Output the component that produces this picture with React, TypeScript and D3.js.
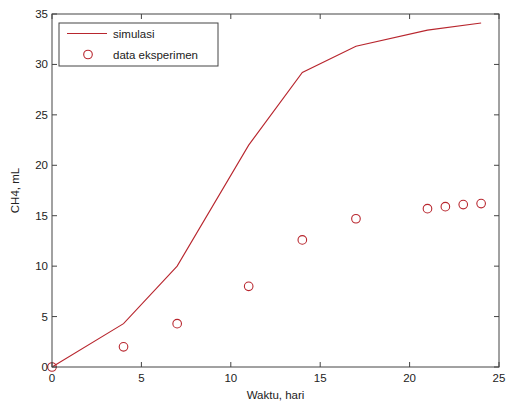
import React from "react";
import * as d3 from "d3";

const simDays = [0, 4, 7, 11, 14, 17, 21, 24];
const simCH4 = [0, 4.3, 10, 22, 29.2, 31.8, 33.4, 34.1];
const expDays = [0, 4, 7, 11, 14, 17, 21, 22, 23, 24];
const expCH4 = [0, 2.0, 4.3, 8.0, 12.6, 14.7, 15.7, 15.9, 16.1, 16.2];
const xTicks = [0, 5, 10, 15, 20, 25];
const yTicks = [0, 5, 10, 15, 20, 25, 30, 35];

const W = 506, H = 403;
const L = 52, R = 499, T = 14, B = 367;
const RED = "#b8262e";
const AX = "#444";
const FONT = "Liberation Sans, Arial, sans-serif";

export default function App() {
  const x = d3.scaleLinear().domain([0, 25]).range([L, R]);
  const y = d3.scaleLinear().domain([0, 35]).range([B, T]);
  const line = d3.line<number>().x((_, i) => x(simDays[i])).y((d) => y(d));
  const tl = 5;
  return (
    <svg width={W} height={H} style={{ position: "absolute", left: 0, top: 0, background: "#fff" }} fontFamily={FONT}>
      <rect x={0} y={0} width={W} height={H} fill="#fff" />
      <path d={line(simCH4) || ""} fill="none" stroke={RED} strokeWidth={1.1} />
      {expCH4.map((v, i) => (
        <circle key={i} cx={x(expDays[i])} cy={y(v)} r={4.3} fill="none" stroke={RED} strokeWidth={1.1} />
      ))}
      <rect x={L} y={T} width={R - L} height={B - T} fill="none" stroke={AX} strokeWidth={1} />
      {xTicks.map((t) => (
        <g key={"x" + t}>
          <line x1={x(t)} x2={x(t)} y1={B} y2={B - tl} stroke={AX} />
          <line x1={x(t)} x2={x(t)} y1={T} y2={T + tl} stroke={AX} />
          <text x={x(t)} y={B + 15} fontSize={11.5} textAnchor="middle" fill="#222">{t}</text>
        </g>
      ))}
      {yTicks.map((t) => (
        <g key={"y" + t}>
          <line x1={L} x2={L + tl} y1={y(t)} y2={y(t)} stroke={AX} />
          <line x1={R} x2={R - tl} y1={y(t)} y2={y(t)} stroke={AX} />
          <text x={L - 4} y={y(t) + 4} fontSize={11.5} textAnchor="end" fill="#222">{t}</text>
        </g>
      ))}
      <text x={(L + R) / 2} y={399} fontSize={11.5} textAnchor="middle" fill="#222">Waktu, hari</text>
      <text transform={`translate(19,${(T + B) / 2}) rotate(-90)`} fontSize={11.5} textAnchor="middle" fill="#222">CH4, mL</text>
      <rect x={59} y={23} width={159} height={43} fill="#fff" stroke={AX} strokeWidth={1} />
      <line x1={67} x2={107} y1={33.5} y2={33.5} stroke={RED} strokeWidth={1.1} />
      <circle cx={88} cy={54.5} r={4.3} fill="none" stroke={RED} strokeWidth={1.1} />
      <text x={113} y={38} fontSize={11.5} fill="#222">simulasi</text>
      <text x={113} y={59} fontSize={11.5} fill="#222">data eksperimen</text>
    </svg>
  );
}
